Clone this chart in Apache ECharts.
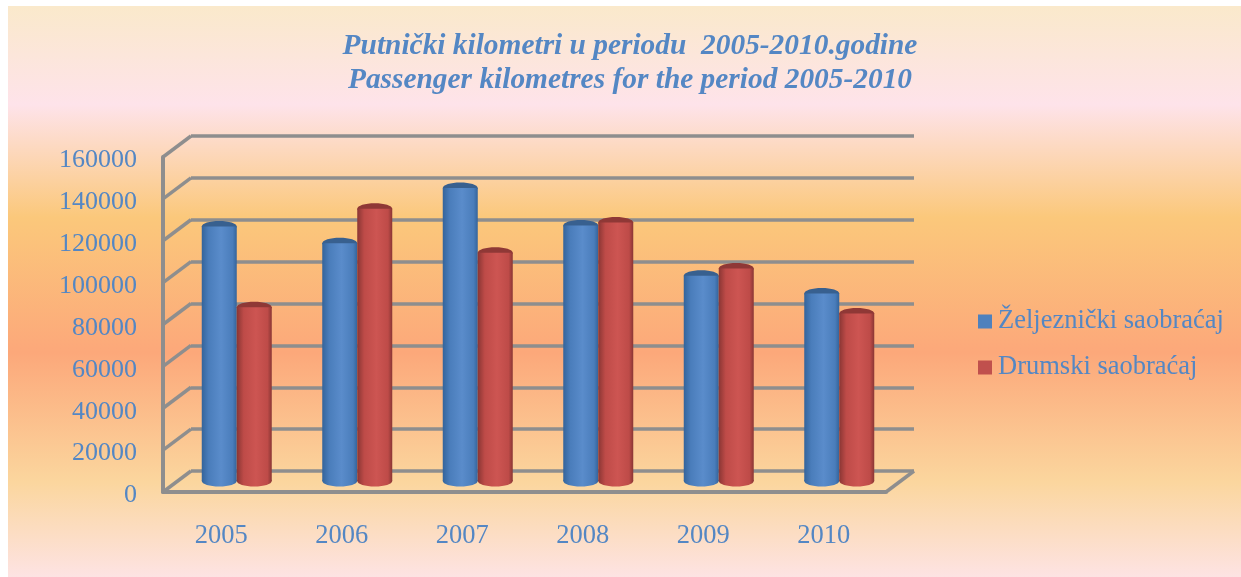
<!DOCTYPE html>
<html><head><meta charset="utf-8">
<style>html,body{margin:0;padding:0;background:#fff}#c{width:1241px;height:577px}</style>
<script src="https://cdn.jsdelivr.net/npm/echarts@6/dist/echarts.min.js"></script>
</head><body><div id="c"></div>
<script>
var years = ['2005','2006','2007','2008','2009','2010'];
var rail = [121500,113500,140000,122000,98000,89500];
var road = [83000,130000,109000,123500,101500,80000];
var yTicks = [0,20000,40000,60000,80000,100000,120000,140000,160000];
var railName = 'Željeznički saobraćaj';
var roadName = 'Drumski saobraćaj';
var titleText = 'Putnički kilometri u periodu  2005-2010.godine\nPassenger kilometres for the period 2005-2010';

var FONT = '"Liberation Serif"', BLUE = '#4F81BD', TEXT = '#5487C4', GREY = '#8E8E8E';
function grad(stops){return new echarts.graphic.LinearGradient(1,0,0,0,stops.map(function(s){return {offset:s[0],color:s[1]};}));}
function body(a,b,c){return grad([[0,c],[0.12,b],[0.45,a],[0.8,b],[1,c]]);}
var railFill = body('#5A8CCB','#4A7DBB','#34649B');
var roadFill = body('#CD5552','#BE4B48','#8A3634');

function capsItem(offsetSign, topColor){
  return function(params, api){
    var idx = api.value(0), p = api.coord([idx, api.value(1)]), b = api.coord([idx, 0]);
    var cx = p[0] + offsetSign * 17.5, rx = 17.5, ry = 5.5;
    var fill = offsetSign < 0 ? railFill : roadFill;
    return {type:'group',children:[
      {type:'ellipse',shape:{cx:cx,cy:b[1],rx:rx,ry:ry},style:{fill:fill}},
      {type:'ellipse',shape:{cx:cx,cy:p[1],rx:rx,ry:ry},style:{fill:topColor}}
    ]};
  };
}
function depthItem(params, api){
  var p = api.coord([0, api.value(1)]);
  var x = p[0] - api.size([1,0])[0] / 2;
  return {type:'line',shape:{x1:x,y1:p[1],x2:x+28,y2:p[1]-21},
    style:{stroke:GREY,lineWidth:3.5}};
}
function floorEdge(params, api){
  var p = api.coord([5, 0]);
  var x = p[0] + api.size([1,0])[0] / 2;
  return {type:'line',shape:{x1:x,y1:p[1],x2:x+28,y2:p[1]-21},
    style:{stroke:GREY,lineWidth:3.5}};
}
function idx(arr){return arr.map(function(v,i){return [i,v];});}

var chart = echarts.init(document.getElementById('c'),null,{renderer:'canvas'});
chart.setOption({
  animation:false,
  graphic:[{type:'rect',z:-10,silent:true,shape:{x:8,y:6,width:1233,height:571},
    style:{fill:new echarts.graphic.LinearGradient(0,0,0,1,[
      {offset:0,color:'#FAE9CB'},{offset:0.173,color:'#FEE3EA'},{offset:0.37,color:'#FBC87B'},
      {offset:0.607,color:'#FCA87A'},{offset:0.834,color:'#FBD69E'},{offset:1,color:'#FDE3E3'}])}}],
  title:{text:titleText,left:625,top:24,textAlign:'center',
    textStyle:{fontFamily:FONT,fontStyle:'italic',fontWeight:'bold',fontSize:29.4,lineHeight:34,color:TEXT}},
  legend:{data:[{name:railName,itemStyle:{color:BLUE}},{name:roadName,itemStyle:{color:'#C0504D'}}],
    left:973,top:303,orient:'vertical',itemWidth:14,itemHeight:14,itemGap:19,
    icon:'rect',selectedMode:false,
    textStyle:{fontFamily:FONT,fontSize:26.5,color:TEXT,padding:[0,0,0,1]}},
  grid:[
    {left:163,top:157,width:723,height:335},
    {left:191,top:136,width:723,height:335},
    {left:176.5,top:146,width:723,height:335}
  ],
  xAxis:[
    {gridIndex:0,type:'category',data:years,axisTick:{show:false},
     axisLine:{lineStyle:{color:GREY,width:4}},
     axisLabel:{fontFamily:FONT,fontSize:26.5,color:TEXT,margin:31,padding:[0,4,0,0]}},
    {gridIndex:1,type:'category',data:years,show:false},
    {gridIndex:2,type:'category',data:years,show:false}
  ],
  yAxis:[0,1,2].map(function(g){return {
    gridIndex:g,type:'value',min:0,max:160000,interval:20000,show:g!==2,
    axisTick:{show:false},
    axisLine:{show:g===0,lineStyle:{color:GREY,width:4}},
    axisLabel:g===0?{margin:26,formatter:function(v){return '{n|'+v+'}';},
      rich:{n:{fontFamily:FONT,fontSize:26,color:TEXT,padding:[7,0,0,0]}}}:{show:false},
    splitLine:{show:g===1,lineStyle:{color:GREY,width:3.5}}
  };}),
  series:[
    {type:'custom',xAxisIndex:0,yAxisIndex:0,silent:true,z:1,clip:false,
     data:yTicks.map(function(v){return [0,v];}),encode:{x:0,y:1},renderItem:depthItem},
    {type:'custom',xAxisIndex:0,yAxisIndex:0,silent:true,z:1,clip:false,
     data:[[5,0]],encode:{x:0,y:1},renderItem:floorEdge},
    {name:railName,type:'bar',xAxisIndex:2,yAxisIndex:2,barWidth:35,barGap:'0%',z:3,data:rail,
     itemStyle:{color:railFill}},
    {name:roadName,type:'bar',xAxisIndex:2,yAxisIndex:2,barWidth:35,barGap:'0%',z:4,data:road,
     itemStyle:{color:roadFill}},
    {type:'custom',xAxisIndex:2,yAxisIndex:2,z:3,clip:false,silent:true,
     data:idx(rail),encode:{x:0,y:1},renderItem:capsItem(-1,'#38608F')},
    {type:'custom',xAxisIndex:2,yAxisIndex:2,z:4,clip:false,silent:true,
     data:idx(road),encode:{x:0,y:1},renderItem:capsItem(1,'#8F3836')}
  ]
});
</script></body></html>
